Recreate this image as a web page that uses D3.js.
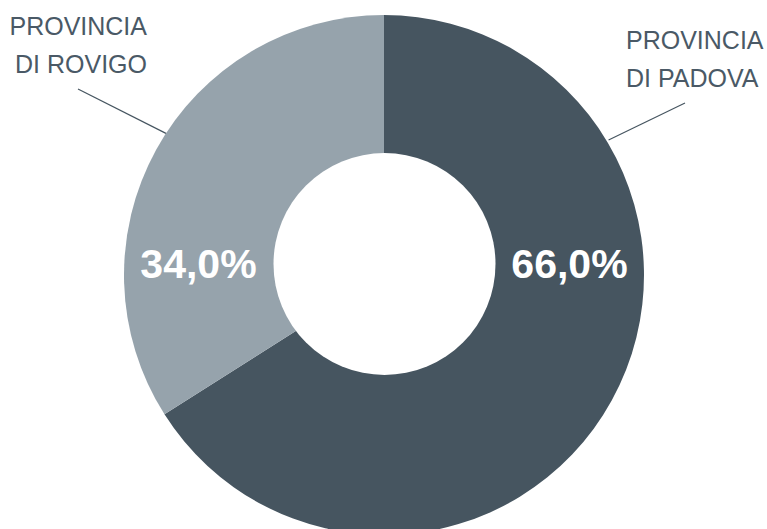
<!DOCTYPE html>
<html>
    <head>
        <meta charset="utf-8">
        <script src="https://cdn.jsdelivr.net/npm/d3@7"></script>
        <style>
            body { margin: 0; background: white; }
            svg { display: block; }
        </style>
        <script>
            // data
            var provinces = ["PROVINCIA DI PADOVA", "PROVINCIA DI ROVIGO"];
            var shares = [66.0, 34.0];
            var colors = ["#465560", "#96a3ac"];

            function makeSVG() {
                var svg = d3.select("#fig");
                var cx = 384, cy = 275;
                var outerR = 260;
                var hole = {x: 384.5, y: 264, r: 111};

                var fmt = d3.formatLocale({decimal: ",", thousands: ".", grouping: [3], currency: ["", "€"]}).format(".1f");

                var pie = d3.pie().sort(null).value(d => d);
                var arcs = pie(shares);
                var arc = d3.arc().innerRadius(0).outerRadius(outerR);

                var g = svg.append("g").attr("transform", "translate(" + cx + "," + cy + ")");

                g.selectAll("path.slice").data(arcs)
                 .enter()
                 .append("path")
                 .attr("class", "slice")
                 .attr("d", arc)
                 .attr("fill", (d, i) => colors[i]);

                // donut hole
                svg.append("circle")
                   .attr("cx", hole.x)
                   .attr("cy", hole.y)
                   .attr("r", hole.r)
                   .attr("fill", "white");

                // percentages in the ring, left/right of the hole
                var ringMid = (outerR + hole.r) / 2;
                svg.selectAll("text.pct").data(arcs)
                   .enter()
                   .append("text")
                   .attr("class", "pct")
                   .attr("x", (d, i) => i == 0 ? cx + ringMid : cx - ringMid)
                   .attr("y", 278)
                   .attr("text-anchor", "middle")
                   .attr("font-family", "'Liberation Sans', Arial, sans-serif")
                   .attr("font-weight", "bold")
                   .attr("font-size", "41px")
                   .attr("fill", "white")
                   .text(d => fmt(d.value) + "%");

                // leader lines + outside labels
                var leaders = [
                    {a0: 59, r0: 262, x1: 685, y1: 103, tx: 626, ty: 49, anchor: "start"},
                    {a0: -57, r0: 260, x1: 78, y1: 89, tx: 147, ty: 35, anchor: "end"}
                ];

                leaders.forEach(function (l, i) {
                    var p = d3.pointRadial(l.a0 * Math.PI / 180, l.r0);
                    svg.append("line")
                       .attr("x1", cx + p[0])
                       .attr("y1", cy + p[1])
                       .attr("x2", l.x1)
                       .attr("y2", l.y1)
                       .attr("stroke", "#465560")
                       .attr("stroke-width", 1.2);

                    var words = provinces[i].split(" ");
                    var lines = [words[0], words.slice(1).join(" ")];
                    var t = svg.append("text")
                       .attr("font-family", "'Liberation Sans', Arial, sans-serif")
                       .attr("font-size", "25px")
                       .attr("fill", "#4a5966")
                       .attr("text-anchor", l.anchor);
                    t.selectAll("tspan").data(lines)
                     .enter()
                     .append("tspan")
                     .attr("x", l.tx)
                     .attr("y", (d, j) => l.ty + j * 37.5)
                     .text(d => d);
                });
            }
        </script>
    </head>
    <body onload="makeSVG()">
        <svg id="fig" width="767" height="529"></svg>
    </body>
</html>
